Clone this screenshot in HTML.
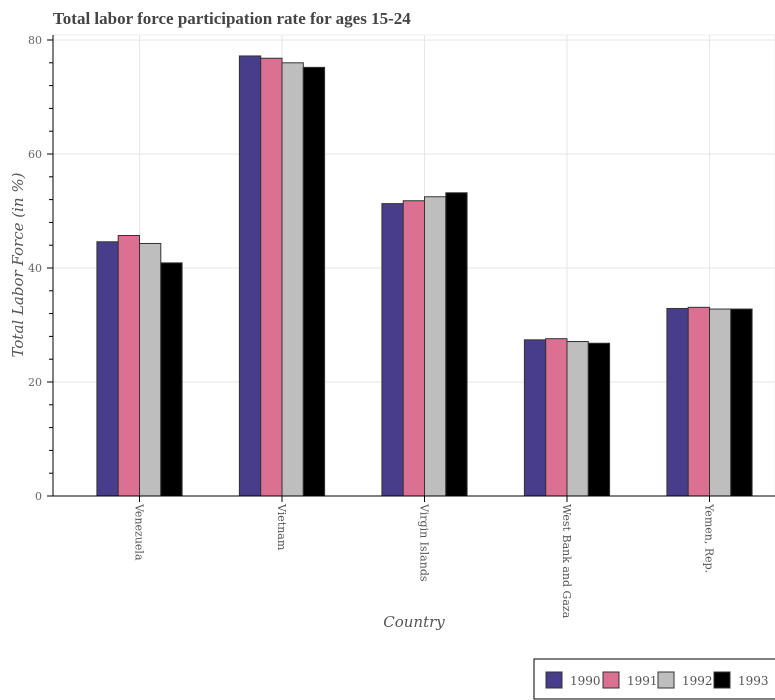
<!DOCTYPE html>
<html><head><meta charset="utf-8"><style>body{margin:0;background:#fff}svg{display:block}</style></head>
<body>
<svg id="chart" width="775" height="700" xmlns="http://www.w3.org/2000/svg">
<text x="53" y="24" font-family="Liberation Serif, serif" font-weight="bold" font-size="17" fill="#444">Total labor force participation rate for ages 15-24</text>
<g id="grid"></g><g id="bars"></g><g id="axes"></g>
<text transform="translate(23,265) rotate(-90)" text-anchor="middle" font-family="DejaVu Serif, serif" font-style="italic" font-size="15" fill="#555">Total Labor Force (in %)</text>
<text x="414" y="627" text-anchor="middle" font-family="DejaVu Serif, serif" font-style="italic" font-size="15" fill="#555">Country</text>
<g>
<rect x="534" y="659" width="245" height="40" fill="#fff" stroke="#000" stroke-width="1"/>
<g id="legend-items"></g>
</g>
</svg>
<script>
const categories = ["Venezuela","Vietnam","Virgin Islands","West Bank and Gaza","Yemen, Rep."];
const series = ["1990","1991","1992","1993"];
const v1990 = [44.6,77.2,51.3,27.4,32.9];
const v1991 = [45.7,76.8,51.8,27.6,33.1];
const v1992 = [44.3,76.0,52.5,27.1,32.8];
const v1993 = [40.9,75.2,53.2,26.8,32.8];
const yTicks = [0,20,40,60,80];
const colors = ["#483d8b","#db7093","#bebebe","#000000"];
const NS="http://www.w3.org/2000/svg";
const y0=496, y80=40, left=53, right=775;
function y(v){return y0-(v/80)*(y0-y80);}
function xc(i){return 139.5+i*142.5;}
const bw=21.3;
function mk(t,a,p){const e=document.createElementNS(NS,t);for(const k in a)e.setAttribute(k,a[k]);p.appendChild(e);return e;}
const grid=document.getElementById('grid'),bars=document.getElementById('bars'),axes=document.getElementById('axes');
mk('rect',{x:left,y:35,width:right-left,height:y0-35,fill:'none',stroke:'#eee'},grid);
yTicks.forEach(t=>{const l=mk('line',{x1:left,x2:right,y1:y(t),y2:y(t),stroke:'#e6e6e6'},grid);

});
categories.forEach((c,i)=>{const l=mk('line',{x1:xc(i),x2:xc(i),y1:35,y2:y0,stroke:'#e6e6e6'},grid);

});
const vals=[v1990,v1991,v1992,v1993];
categories.forEach((c,i)=>{vals.forEach((arr,s)=>{
const x=xc(i)-2*bw+s*bw;
const r=mk('rect',{x:x,y:y(arr[i]),width:bw,height:y0-y(arr[i]),fill:colors[s],stroke:'#333','stroke-width':1},bars);


});});
mk('line',{x1:left,x2:left,y1:35,y2:y0,stroke:'#000'},axes);
mk('line',{x1:left,x2:right,y1:y0,y2:y0,stroke:'#000'},axes);
for(let t=0;t<=80;t+=4){mk('line',{x1:left-(t%20==0?6:4),x2:left,y1:y(t),y2:y(t),stroke:'#000'},axes);}
yTicks.forEach(t=>{const e=mk('text',{x:42,y:y(t)+4,'text-anchor':'end','font-family':'DejaVu Serif, serif','font-size':'11',fill:'#666'},axes);e.textContent=t;

});
categories.forEach((c,i)=>{mk('line',{x1:xc(i),x2:xc(i),y1:y0,y2:y0+6,stroke:'#000'},axes);
const e=mk('text',{transform:`translate(${xc(i)-4},${y0+8}) rotate(90)`,'font-family':'DejaVu Serif, serif','font-size':'11',fill:'#555'},axes);e.textContent=c;

});
const lg=document.getElementById('legend-items');
const lx=[546,603,658,714];
series.forEach((s,k)=>{const r=mk('rect',{x:lx[k],y:672,width:16,height:16,fill:colors[k],stroke:'#333'},lg);


const t=mk('text',{x:lx[k]+24,y:685,'font-family':'DejaVu Serif, serif','font-size':'12',fill:'#555'},lg);t.textContent=s;

});
</script>
</body></html>
